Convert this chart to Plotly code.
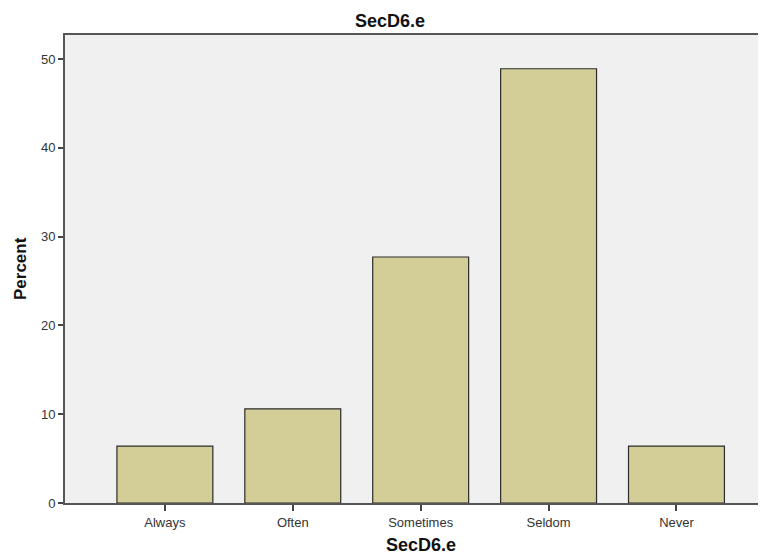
import plotly.graph_objects as go

categories = ["Always", "Often", "Sometimes", "Seldom", "Never"]
percent = [6.4, 10.6, 27.7, 48.9, 6.4]
y_ticks = [0, 10, 20, 30, 40, 50]

FONT = "Liberation Sans, Arial, sans-serif"

fig = go.Figure(
    go.Bar(
        x=list(range(len(categories))),
        y=percent,
        width=0.75,
        marker=dict(color="#d3ce98", line=dict(color="#2b2b2b", width=1.2)),
        hoverinfo="skip",
    )
)

fig.update_layout(
    width=758,
    height=546,
    margin=dict(l=57, r=0, t=27, b=51),
    paper_bgcolor="white",
    plot_bgcolor="#f0f0f0",
    showlegend=False,
    font=dict(family=FONT, size=13, color="#222222"),
    bargap=0.25,
)

fig.update_xaxes(
    tickmode="array",
    tickvals=list(range(len(categories))),
    ticktext=categories,
    range=[-0.781, 4.70],
    showgrid=False,
    zeroline=False,
    showline=True,
    mirror=True,
    linecolor="#555555",
    linewidth=2,
    ticks="outside",
    ticklen=6,
    tickwidth=1.5,
    tickcolor="#444444",
    tickfont=dict(family=FONT, size=13, color="#333333"),
)
fig.update_yaxes(
    tickmode="array",
    tickvals=y_ticks,
    ticktext=[str(v) for v in y_ticks],
    range=[0, 52.7],
    showgrid=False,
    zeroline=False,
    showline=True,
    linecolor="#555555",
    linewidth=2,
    ticks="outside",
    ticklen=5,
    tickwidth=1.5,
    tickcolor="#444444",
    tickfont=dict(family=FONT, size=13, color="#333333"),
)

fig.add_annotation(
    text="<b>SecD6.e</b>", xref="paper", yref="paper",
    x=(390 - 65) / (766 - 65), y=1, yanchor="middle", xanchor="center", yshift=14,
    showarrow=False, font=dict(family=FONT, size=18, color="#111111"),
)
fig.add_annotation(
    text="<b>SecD6.e</b>", xref="x", yref="paper",
    x=2, y=0, yanchor="middle", xanchor="center", yshift=-42,
    showarrow=False, font=dict(family=FONT, size=18, color="#111111"),
)
fig.add_annotation(
    text="<b>Percent</b>", xref="paper", yref="paper",
    x=0, xanchor="center", yanchor="middle", xshift=-45, y=0.5, textangle=-90,
    showarrow=False, font=dict(family=FONT, size=17, color="#111111"),
)

fig.write_html("out.html")
